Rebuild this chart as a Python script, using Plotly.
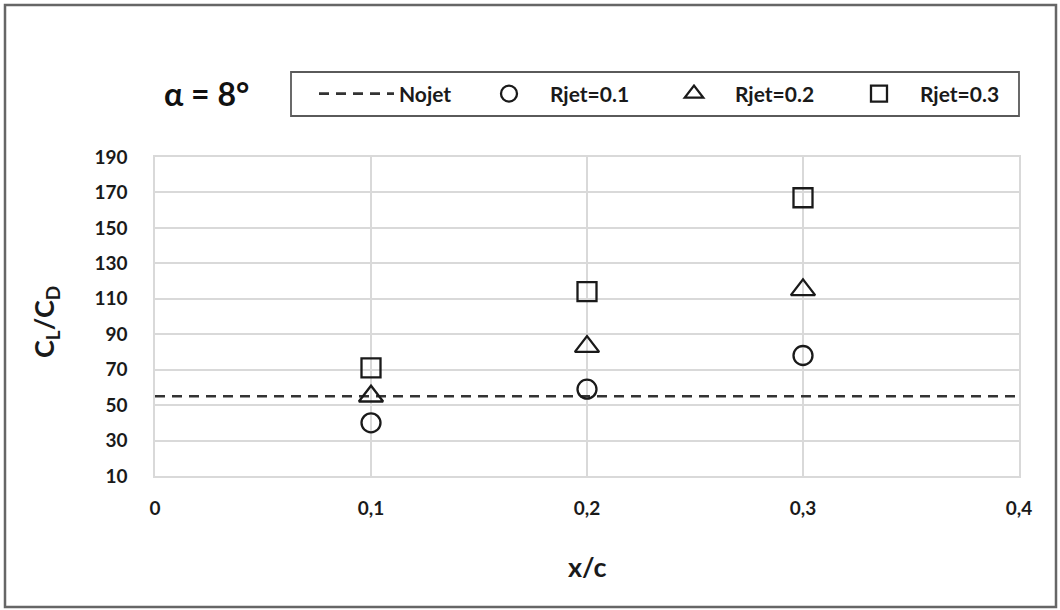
import plotly.graph_objects as go

# ---- data ----
x_pos = [0.1, 0.2, 0.3]
rjet_01 = [40, 59, 78]
rjet_02 = [55, 83, 115]
rjet_03 = [71, 114, 167]
nojet_x = [0, 0.4]
nojet_y = [55, 55]

x_tickvals = [0, 0.1, 0.2, 0.3, 0.4]
x_ticktext = ["0", "0,1", "0,2", "0,3", "0,4"]
y_tickvals = [10, 30, 50, 70, 90, 110, 130, 150, 170, 190]

FONT = "Lato"
W, H = 1060, 610
ML, MR, MT, MB = 155, 41, 157, 134
PW, PH = W - ML - MR, H - MT - MB


def px_x(p):
    return (p - ML) / PW


def px_y(p):
    return (H - MB - p) / PH


fig = go.Figure()
fig.add_trace(go.Scatter(
    x=nojet_x, y=nojet_y, mode="lines", name="Nojet", legend="legend",
    line=dict(color="#333333", width=2.6, dash="10px,7px"),
))
marker_line = dict(color="#1a1a1a", width=2.3)
fig.add_trace(go.Scatter(
    x=x_pos, y=rjet_01, mode="markers", name="Rjet=0.1", legend="legend2",
    marker=dict(symbol="circle-open", size=19, color="#1a1a1a", line=marker_line),
))
fig.add_trace(go.Scatter(
    x=x_pos, y=rjet_02, mode="markers", name="Rjet=0.2", legend="legend2",
    marker=dict(symbol="triangle-up-open", size=21, color="#1a1a1a", line=marker_line),
))
fig.add_trace(go.Scatter(
    x=x_pos, y=rjet_03, mode="markers", name="Rjet=0.3", legend="legend2",
    marker=dict(symbol="square-open", size=19, color="#1a1a1a", line=marker_line),
))

grid = "#d9d9d9"
legend_font = dict(family=FONT, size=21, color="#1a1a1a", weight="bold")
tick_font = dict(family=FONT, size=19, color="#1a1a1a", weight="bold")
fig.update_layout(
    width=W, height=H,
    margin=dict(l=ML, r=MR, t=MT, b=MB),
    paper_bgcolor="white", plot_bgcolor="white",
    font=dict(family=FONT, size=19, color="#1a1a1a", weight="bold"),
    showlegend=True,
    legend=dict(
        orientation="h", x=px_x(314), y=px_y(94), xanchor="left", yanchor="middle",
        itemwidth=75, font=legend_font,
        bgcolor="rgba(0,0,0,0)", borderwidth=0,
    ),
    legend2=dict(
        orientation="h", x=px_x(468), y=px_y(94), xanchor="left", yanchor="middle",
        itemwidth=72, entrywidth=98, entrywidthmode="pixels", font=legend_font,
        bgcolor="rgba(0,0,0,0)", borderwidth=0, traceorder="normal",
    ),
    xaxis=dict(
        range=[0, 0.4], tickvals=x_tickvals, ticktext=x_ticktext,
        showgrid=True, gridcolor=grid, gridwidth=1.5,
        showline=True, linecolor=grid, linewidth=1.5, mirror=True,
        zeroline=False, ticks="outside", ticklen=14, tickcolor="rgba(0,0,0,0)",
        tickfont=tick_font,
    ),
    yaxis=dict(
        range=[10, 190], tickvals=y_tickvals,
        showgrid=True, gridcolor=grid, gridwidth=1.5,
        showline=True, linecolor=grid, linewidth=1.5, mirror=True,
        zeroline=False, ticks="outside", ticklen=22, tickcolor="rgba(0,0,0,0)",
        tickfont=tick_font,
    ),
    shapes=[
        # outer chart border
        dict(type="rect", xref="paper", yref="paper",
             x0=px_x(5), x1=px_x(1056), y0=px_y(607), y1=px_y(5),
             line=dict(color="#666666", width=2.5), fillcolor="rgba(0,0,0,0)", layer="below"),
        # legend box
        dict(type="rect", xref="paper", yref="paper",
             x0=px_x(291), x1=px_x(1019), y0=px_y(116), y1=px_y(72),
             line=dict(color="#5a5a5a", width=1.8), fillcolor="rgba(0,0,0,0)"),
    ],
    annotations=[
        dict(text="α = 8°", x=px_x(206), y=px_y(93), xref="paper", yref="paper",
             showarrow=False, xanchor="center", yanchor="middle",
             font=dict(family=FONT, size=32, color="#111111", weight="bold")),
        dict(text="C<sub>L</sub>/C<sub>D</sub>", x=px_x(45), y=px_y(322),
             xref="paper", yref="paper", showarrow=False, textangle=-90,
             xanchor="center", yanchor="middle",
             font=dict(family=FONT, size=27, color="#1a1a1a", weight="bold")),
        dict(text="x/c", x=px_x(587), y=px_y(566), xref="paper", yref="paper",
             showarrow=False, xanchor="center", yanchor="middle",
             font=dict(family=FONT, size=27, color="#1a1a1a", weight="bold")),
    ],
)

fig.write_html(
    "out.html",
    config={"displayModeBar": False},
    post_script="document.body.style.margin='0px';",
)
